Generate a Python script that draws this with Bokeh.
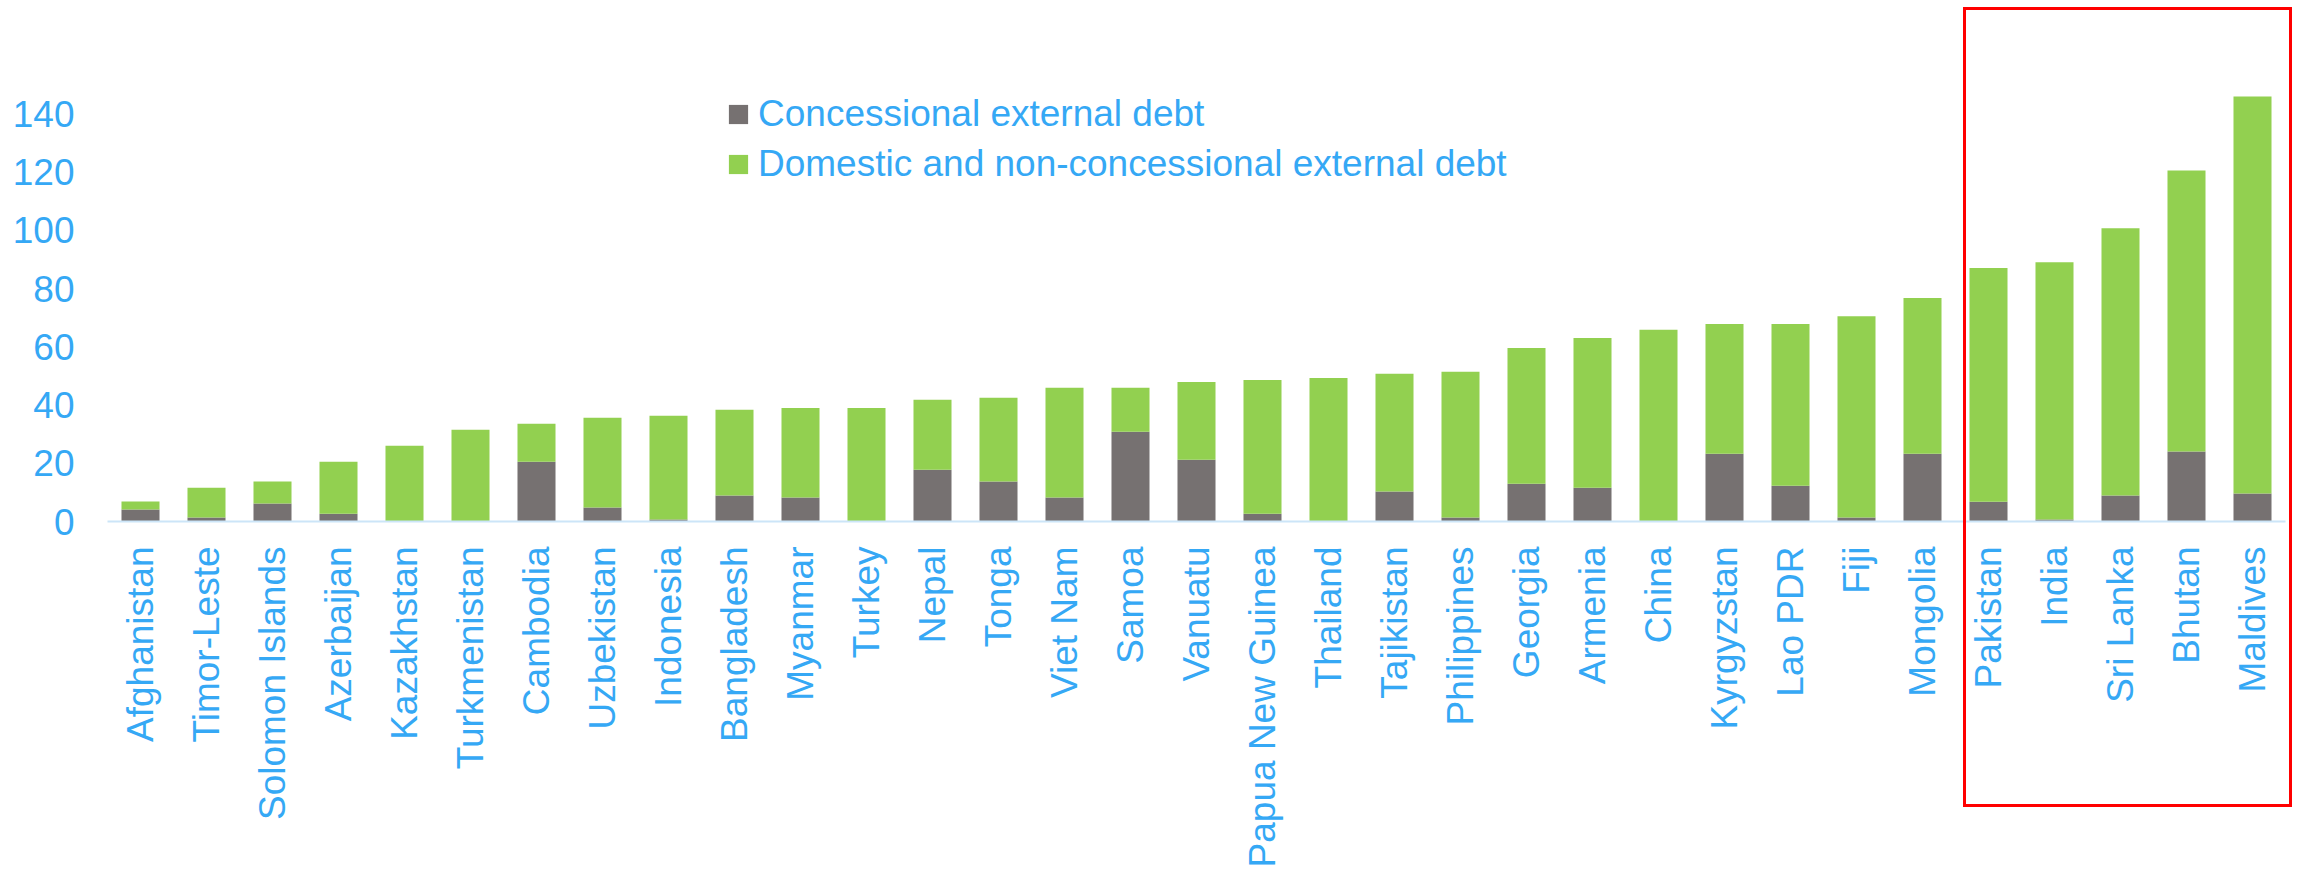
import math
from bokeh.plotting import figure
from bokeh.models import FactorRange, FixedTicker, Legend, LegendItem, ColumnDataSource, InlineStyleSheet
from bokeh.embed import file_html
from bokeh.resources import INLINE

countries = ["Afghanistan", "Timor-Leste", "Solomon Islands", "Azerbaijan", "Kazakhstan",
             "Turkmenistan", "Cambodia", "Uzbekistan", "Indonesia", "Bangladesh", "Myanmar",
             "Turkey", "Nepal", "Tonga", "Viet Nam", "Samoa", "Vanuatu", "Papua New Guinea",
             "Thailand", "Tajikistan", "Philippines", "Georgia", "Armenia", "China",
             "Kyrgyzstan", "Lao PDR", "Fiji", "Mongolia", "Pakistan", "India", "Sri Lanka",
             "Bhutan", "Maldives"]
concessional = [4.1, 1.4, 6.2, 2.7, 0.0, 0.0, 20.5, 4.8, 0.7, 8.9, 8.2, 0.0, 17.8, 13.7,
                8.2, 30.8, 21.2, 2.7, 0.0, 10.3, 1.4, 13.0, 11.6, 0.0, 23.3, 12.3, 1.4, 23.3,
                6.8, 0.7, 8.9, 24.0, 9.6]
domestic = [2.8, 10.2, 7.5, 17.8, 26.0, 31.5, 13.1, 30.8, 35.6, 29.5, 30.8, 39.0, 24.0, 28.8,
            37.7, 15.1, 26.7, 45.9, 49.3, 40.4, 50.0, 46.6, 51.4, 65.8, 44.5, 55.5, 69.1, 53.4,
            80.2, 88.3, 91.8, 96.5, 136.3]
y_ticks = [0, 20, 40, 60, 80, 100, 120, 140]
series_names = ["Concessional external debt", "Domestic and non-concessional external debt"]

BLUE = "#35A8F5"
GRAY = "#767171"
GREEN = "#92D050"
FONT = "Liberation Sans"

src = ColumnDataSource(dict(country=countries, conc=concessional, dom=domestic))

p = figure(width=2300, height=870, x_range=FactorRange(factors=countries, range_padding=0),
           y_range=(0, 160), output_backend="svg", toolbar_location=None,
           min_border_left=107, min_border_right=15, min_border_top=55, min_border_bottom=349)

rs = p.vbar_stack(["conc", "dom"], x="country", width=0.576, color=[GRAY, GREEN],
                  line_color=None, source=src)

p.xgrid.visible = False
p.ygrid.visible = False
p.outline_line_color = None
p.background_fill_color = "white"

yax = p.yaxis[0]
yax.ticker = FixedTicker(ticks=y_ticks)
yax.axis_line_color = None
yax.major_tick_line_color = None
yax.minor_tick_line_color = None
yax.major_tick_out = 0
yax.major_label_standoff = 33
yax.major_label_text_font = FONT
yax.major_label_text_font_size = "37px"
yax.major_label_text_color = BLUE

xax = p.xaxis[0]
xax.axis_line_color = "#CCE5F8"
xax.axis_line_width = 2
xax.major_tick_line_color = None
xax.minor_tick_line_color = None
xax.major_tick_out = 0
xax.major_label_standoff = 25
xax.major_label_orientation = math.pi / 2
xax.major_label_text_font = FONT
xax.major_label_text_font_size = "37px"
xax.major_label_text_color = BLUE

legend = Legend(items=[LegendItem(label=series_names[0], renderers=[rs[0]]),
                       LegendItem(label=series_names[1], renderers=[rs[1]])],
                location=(619, 332), orientation="vertical",
                glyph_width=24, glyph_height=24, label_height=50, spacing=0,
                padding=0, margin=0, label_standoff=8,
                label_text_font=FONT, label_text_font_size="37px", label_text_color=BLUE,
                border_line_color=None, background_fill_alpha=0)
p.add_layout(legend, "center")

# red highlight frame around the last five countries (spans beyond the plot frame,
# so it is drawn as an overlay on the plot element itself)
p.stylesheets = [InlineStyleSheet(css="""
:host { position: relative; }
:host::after {
  content: "";
  position: absolute;
  left: 1963px; top: 7px; width: 329px; height: 800px;
  box-sizing: border-box;
  border: 3px solid #FF0000;
  pointer-events: none;
  z-index: 100;
}
""")]

open("out.html", "w").write(file_html(p, INLINE))
